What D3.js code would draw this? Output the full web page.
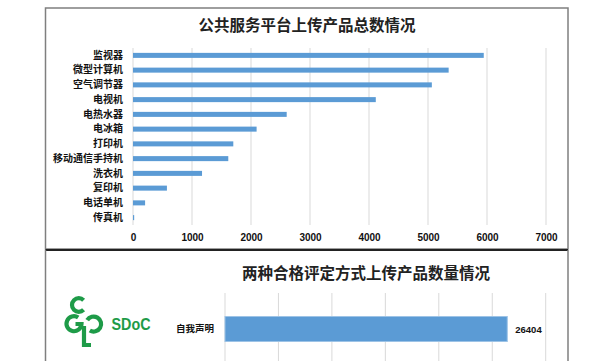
<!DOCTYPE html>
<html><head><meta charset="utf-8">
<script src="https://cdn.jsdelivr.net/npm/d3@7/dist/d3.min.js"></script>
<style>
html,body{margin:0;padding:0;background:#fff;}
svg{display:block;}
</style></head>
<body>
<svg id="c" width="612" height="361"></svg>
<script>
// ---- data ----
const title1 = "公共服务平台上传产品总数情况";
const categories1 = ["监视器","微型计算机","空气调节器","电视机","电热水器","电冰箱","打印机","移动通信手持机","洗衣机","复印机","电话单机","传真机"];
const values1 = [5945, 5350, 5065, 4115, 2605, 2095, 1700, 1615, 1170, 575, 205, 20];
const ticks1 = [0,1000,2000,3000,4000,5000,6000,7000];

const title2 = "两种合格评定方式上传产品数量情况";
const categories2 = ["自我声明"];
const values2 = [26404];
const ticks2 = [0,5000,10000,15000,20000,25000,30000];

const barColor = "#5B9BD5";
const gridColor = "#D9D9D9";
const cjk = "'Noto Sans CJK SC', sans-serif";
const num = "'Liberation Sans', Arial, sans-serif";

const svg = d3.select("#c");

// panel frames
svg.append("rect").attr("x",45.5).attr("y",8).attr("width",522.5).attr("height",241)
  .attr("fill","none").attr("stroke","#7f7f7f").attr("stroke-width",1.5);
svg.append("line").attr("x1",45.5).attr("x2",568).attr("y1",250).attr("y2",250)
  .attr("stroke","#222").attr("stroke-width",2);
svg.append("line").attr("x1",45.5).attr("x2",45.5).attr("y1",250).attr("y2",361)
  .attr("stroke","#7f7f7f").attr("stroke-width",1.5);
svg.append("line").attr("x1",568).attr("x2",568).attr("y1",250).attr("y2",361)
  .attr("stroke","#7f7f7f").attr("stroke-width",1.5);

// ---- chart 1 ----
const x1 = d3.scaleLinear().domain([0,7000]).range([133,546]);
const y1 = d3.scaleBand().domain(categories1).range([48,225]).paddingInner(0.66).paddingOuter(0.33);

svg.append("text").attr("x",307).attr("y",31).attr("text-anchor","middle")
  .attr("font-family",cjk).attr("font-weight","bold").attr("font-size",15.5)
  .attr("fill","#222").text(title1);

const g1 = svg.append("g");
g1.selectAll("line.grid").data(ticks1).join("line")
  .attr("x1",d=>x1(d)).attr("x2",d=>x1(d)).attr("y1",48).attr("y2",225)
  .attr("stroke",gridColor).attr("stroke-width",1);

const ax1 = g1.append("g").attr("transform","translate(0,225)")
  .call(d3.axisBottom(x1).tickValues(ticks1).tickSize(0).tickPadding(9).tickFormat(d3.format("d")));
ax1.select(".domain").remove();
ax1.selectAll("text").attr("font-family",num).attr("font-weight","bold").attr("font-size",10).attr("fill","#111");

g1.selectAll("rect.bar").data(values1).join("rect")
  .attr("x",x1(0)).attr("y",(d,i)=>y1(categories1[i]))
  .attr("width",d=>x1(d)-x1(0)).attr("height",y1.bandwidth())
  .attr("fill",barColor);

const ay1 = g1.append("g").attr("transform","translate(133,0)")
  .call(d3.axisLeft(y1).tickSize(0).tickPadding(10));
ay1.select(".domain").remove();
ay1.selectAll("text").attr("font-family",cjk).attr("font-weight","bold").attr("font-size",10).attr("fill","#111");

// ---- chart 2 ----
const x2 = d3.scaleLinear().domain([0,30000]).range([225,545.7]);
const y2 = d3.scaleBand().domain(categories2).range([316.5,341.5]).padding(0);

svg.append("text").attr("x",366).attr("y",279).attr("text-anchor","middle")
  .attr("font-family",cjk).attr("font-weight","bold").attr("font-size",15.5)
  .attr("fill","#222").text(title2);

const g2 = svg.append("g");
g2.selectAll("line.grid").data(ticks2).join("line")
  .attr("x1",d=>x2(d)).attr("x2",d=>x2(d)).attr("y1",293).attr("y2",361)
  .attr("stroke",gridColor).attr("stroke-width",1);

g2.selectAll("rect.bar").data(values2).join("rect")
  .attr("x",x2(0)).attr("y",(d,i)=>y2(categories2[i]))
  .attr("width",d=>x2(d)-x2(0)).attr("height",y2.bandwidth())
  .attr("fill",barColor).attr("stroke","#9DC3E6").attr("stroke-width",1);

g2.selectAll("text.val").data(values2).join("text")
  .attr("x",d=>x2(d)+8).attr("y",(d,i)=>y2(categories2[i])+y2.bandwidth()/2+3.5)
  .attr("font-family",num).attr("font-weight","bold").attr("font-size",9.5).attr("fill","#111")
  .text(d=>d);

const ay2 = g2.append("g").attr("transform","translate(225,0)")
  .call(d3.axisLeft(y2).tickSize(0).tickPadding(11));
ay2.select(".domain").remove();
ay2.selectAll("text").attr("font-family",cjk).attr("font-weight","bold").attr("font-size",9.5).attr("fill","#111");

// ---- SDoC logo ----
const green = "#1E9B48";
const logo = svg.append("g").attr("fill","none").attr("stroke",green).attr("stroke-width",4.2);
// top C (opening right)
logo.append("path").attr("d","M83.6,300.2 A6.8,6.8 0 1 0 83.6,309.8");
// left G (opening upper right, inward bar)
logo.append("path").attr("d","M78.2,317.5 A7.5,7.5 0 1 0 81.5,324 L75.5,324");
// right reversed C (opening lower left)
logo.append("path").attr("d","M87.2,320.2 A7.5,7.5 0 1 1 89.8,330.5");
// stem and foot
logo.append("path").attr("d","M84,326 L84,345 L91,345");

svg.append("text").attr("x",111.5).attr("y",329.5).attr("font-family",num).attr("font-weight","bold")
  .attr("font-size",17).attr("fill",green).attr("textLength",39).attr("lengthAdjust","spacingAndGlyphs").text("SDoC");
</script>
</body></html>
